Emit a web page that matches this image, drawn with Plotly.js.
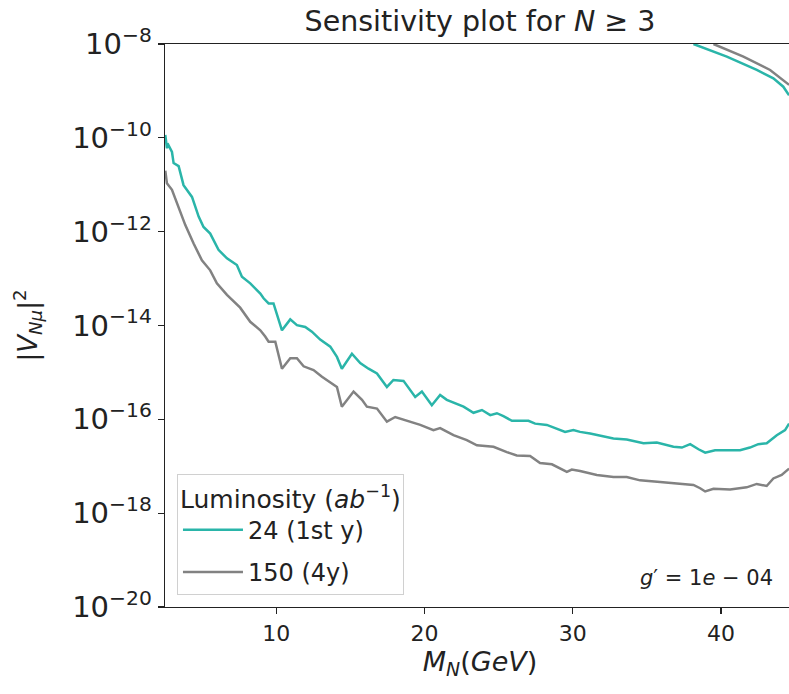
<!DOCTYPE html>
<html>
<head>
<meta charset="utf-8">
<script src="https://cdn.plot.ly/plotly-3.0.1.min.js"></script>
<style>
html,body{margin:0;padding:0;overflow:hidden;background:#fff;}
#chart{width:800px;height:694px;}
</style>
</head>
<body>
<div id="chart"></div>
<script>
// Lower branch of the 24 ab^-1 (1st y) contour
const mass24 = [2.52,2.63,2.67,2.97,3.08,3.42,3.75,4.32,4.77,5.10,5.55,6.11,6.68,7.35,7.69,8.25,8.93,9.15,9.49,9.82,10.39,10.95,11.40,11.96,12.41,12.97,13.65,14.10,14.43,15.11,15.67,16.23,16.80,17.47,17.91,18.59,19.38,19.83,20.50,21.06,21.51,22.07,22.64,23.31,23.88,24.44,24.89,25.33,25.90,27.02,27.47,28.26,28.82,29.49,30.05,30.50,31.18,32.07,32.75,33.65,34.78,35.68,36.80,37.37,37.93,38.49,38.94,39.61,41.29,41.96,42.52,43.09,43.77,44.33,44.60];
const v24 = [1.15e-10,6.0e-11,7.6e-11,5.0e-11,2.9e-11,2.5e-11,9.8e-12,5.5e-12,2.1e-12,1.26e-12,9.1e-13,4.1e-13,2.7e-13,1.95e-13,1.1e-13,7.9e-14,4.8e-14,3.8e-14,2.95e-14,2.95e-14,7.9e-15,1.35e-14,1.02e-14,9.3e-15,7.4e-15,5.0e-15,3.55e-15,2.14e-15,1.2e-15,2.5e-15,1.58e-15,1.2e-15,9.5e-16,4.9e-16,6.9e-16,6.6e-16,3.0e-16,3.9e-16,2.0e-16,3.3e-16,2.6e-16,2.2e-16,1.86e-16,1.38e-16,1.58e-16,1.23e-16,1.35e-16,1.17e-16,9.3e-17,9.3e-17,8.1e-17,7.6e-17,6.5e-17,5.4e-17,5.9e-17,5.4e-17,5.0e-17,4.4e-17,3.9e-17,3.7e-17,3.1e-17,3.2e-17,2.6e-17,2.5e-17,2.95e-17,2.3e-17,1.95e-17,2.2e-17,2.2e-17,2.5e-17,2.95e-17,3.1e-17,4.6e-17,5.9e-17,8.1e-17];
// Upper branch of the same contour (top right)
const mass24Up = [38.15,40.40,42.42,43.54,44.21,44.60];
const v24Up = [1.0e-8,5.4e-9,2.8e-9,1.86e-9,1.23e-9,8.1e-10];

// Lower branch of the 150 ab^-1 (4y) contour
const mass150 = [2.52,2.63,2.97,3.42,3.87,4.43,4.99,5.55,6.00,6.68,7.02,7.57,8.25,8.93,9.26,9.49,9.94,10.39,10.95,11.40,11.85,12.52,13.09,13.76,14.10,14.43,15.22,15.79,16.12,16.80,17.47,18.03,18.82,19.72,20.61,21.06,21.96,22.86,23.54,24.66,25.56,26.23,27.13,27.80,28.60,29.16,29.61,29.94,30.50,31.63,32.75,33.65,34.55,35.90,37.03,38.15,38.60,38.94,39.50,40.62,41.74,42.42,43.09,43.54,44.10,44.60];
const v150 = [2.0e-11,1.07e-11,7.8e-12,3.4e-12,1.38e-12,5.6e-13,2.45e-13,1.5e-13,7.9e-14,4.5e-14,3.5e-14,2.4e-14,1.2e-14,7.9e-15,5.8e-15,4.5e-15,4.5e-15,1.2e-15,2.0e-15,2.0e-15,1.35e-15,1.12e-15,8.1e-16,5.9e-16,4.9e-16,1.86e-16,3.9e-16,2.6e-16,1.86e-16,1.7e-16,8.9e-17,1.12e-16,9.5e-17,7.6e-17,5.9e-17,6.5e-17,4.6e-17,3.6e-17,2.8e-17,2.6e-17,2.0e-17,1.7e-17,1.66e-17,1.17e-17,1.1e-17,8.9e-18,7.6e-18,8.5e-18,7.9e-18,6.5e-18,5.9e-18,5.9e-18,5.0e-18,4.6e-18,4.3e-18,4.0e-18,3.4e-18,2.9e-18,3.3e-18,3.2e-18,3.55e-18,4.2e-18,3.8e-18,5.5e-18,6.5e-18,8.9e-18];
const mass150Up = [39.50,41.52,43.32,44.21,44.60];
const v150Up = [1.0e-8,5.4e-9,2.8e-9,1.7e-9,1.35e-9];

const seriesNames = ['24 (1st y)', '150 (4y)'];
const yTickVals = [1e-20,1e-18,1e-16,1e-14,1e-12,1e-10,1e-8];
const yTickText = ['10<sup>−20</sup>','10<sup>−18</sup>','10<sup>−16</sup>','10<sup>−14</sup>','10<sup>−12</sup>','10<sup>−10</sup>','10<sup>−8</sup>'];
const xTickVals = [10,20,30,40];

const teal = '#2ab5a9';
const grey = '#828282';
const FONT = 'DejaVu Sans, sans-serif';

const traces = [
  {x: mass24.concat([null], mass24Up), y: v24.concat([null], v24Up), name: seriesNames[0], legendgroup: 'a',
   mode: 'lines', line: {color: teal, width: 2.5}, connectgaps: false},
  {x: mass150.concat([null], mass150Up), y: v150.concat([null], v150Up), name: seriesNames[1], legendgroup: 'b',
   mode: 'lines', line: {color: grey, width: 2.5}, connectgaps: false}
];

const layout = {
  width: 800, height: 694,
  margin: {l: 165, r: 5, t: 44, b: 87},
  paper_bgcolor: '#fff', plot_bgcolor: '#fff',
  font: {family: FONT, color: '#222'},
  title: {text: 'Sensitivity plot for <i>N</i> ≥ 3', font: {size: 28.5, family: FONT, color: '#222'},
          x: 0.5, xref: 'paper', xanchor: 'center', y: 0.97, yref: 'container', yanchor: 'middle'},
  xaxis: {
    range: [2.5, 45], showgrid: false, zeroline: false,
    showline: true, linecolor: '#222', linewidth: 1.3, mirror: true,
    ticks: 'outside', ticklen: 6, tickwidth: 1.3, tickcolor: '#222',
    tickvals: xTickVals, tickfont: {size: 22, family: FONT, color: '#222'},
    title: {text: '<i>M<sub>N</sub></i>(<i>GeV</i>)', font: {size: 27, family: FONT, color: '#222'}, standoff: 6}
  },
  yaxis: {
    type: 'log', range: [-20, -8], showgrid: false, zeroline: false,
    showline: true, linecolor: '#222', linewidth: 1.3,
    ticks: 'outside', ticklen: 6, tickwidth: 1.3, tickcolor: '#222',
    tickvals: yTickVals, ticktext: yTickText, tickfont: {size: 29, family: FONT, color: '#222'},
    title: {text: '|<i>V</i><sub><i>Nμ</i></sub>|<sup>2</sup>', font: {size: 26, family: FONT, color: '#222'}, standoff: 27}
  },
  legend: {
    x: 0.019, y: 0.021, xanchor: 'left', yanchor: 'bottom',
    bgcolor: 'rgba(255,255,255,0.85)', bordercolor: '#d0d0d0', borderwidth: 1,
    font: {size: 24, family: FONT, color: '#222'},
    title: {text: 'Luminosity (<i>ab</i><sup>−1</sup>)', font: {size: 25, family: FONT, color: '#222'}},
    tracegroupgap: 8,
    itemwidth: 60
  },
  annotations: [{
    text: '<i>g</i>′ = 1<i>e</i> − 04', xref: 'paper', yref: 'paper', x: 0.969, y: 0.052,
    xanchor: 'right', yanchor: 'middle', showarrow: false,
    font: {size: 21, family: FONT, color: '#222'}
  }]
};

Plotly.newPlot('chart', traces, layout, {displayModeBar: false, staticPlot: true});
</script>
</body>
</html>
